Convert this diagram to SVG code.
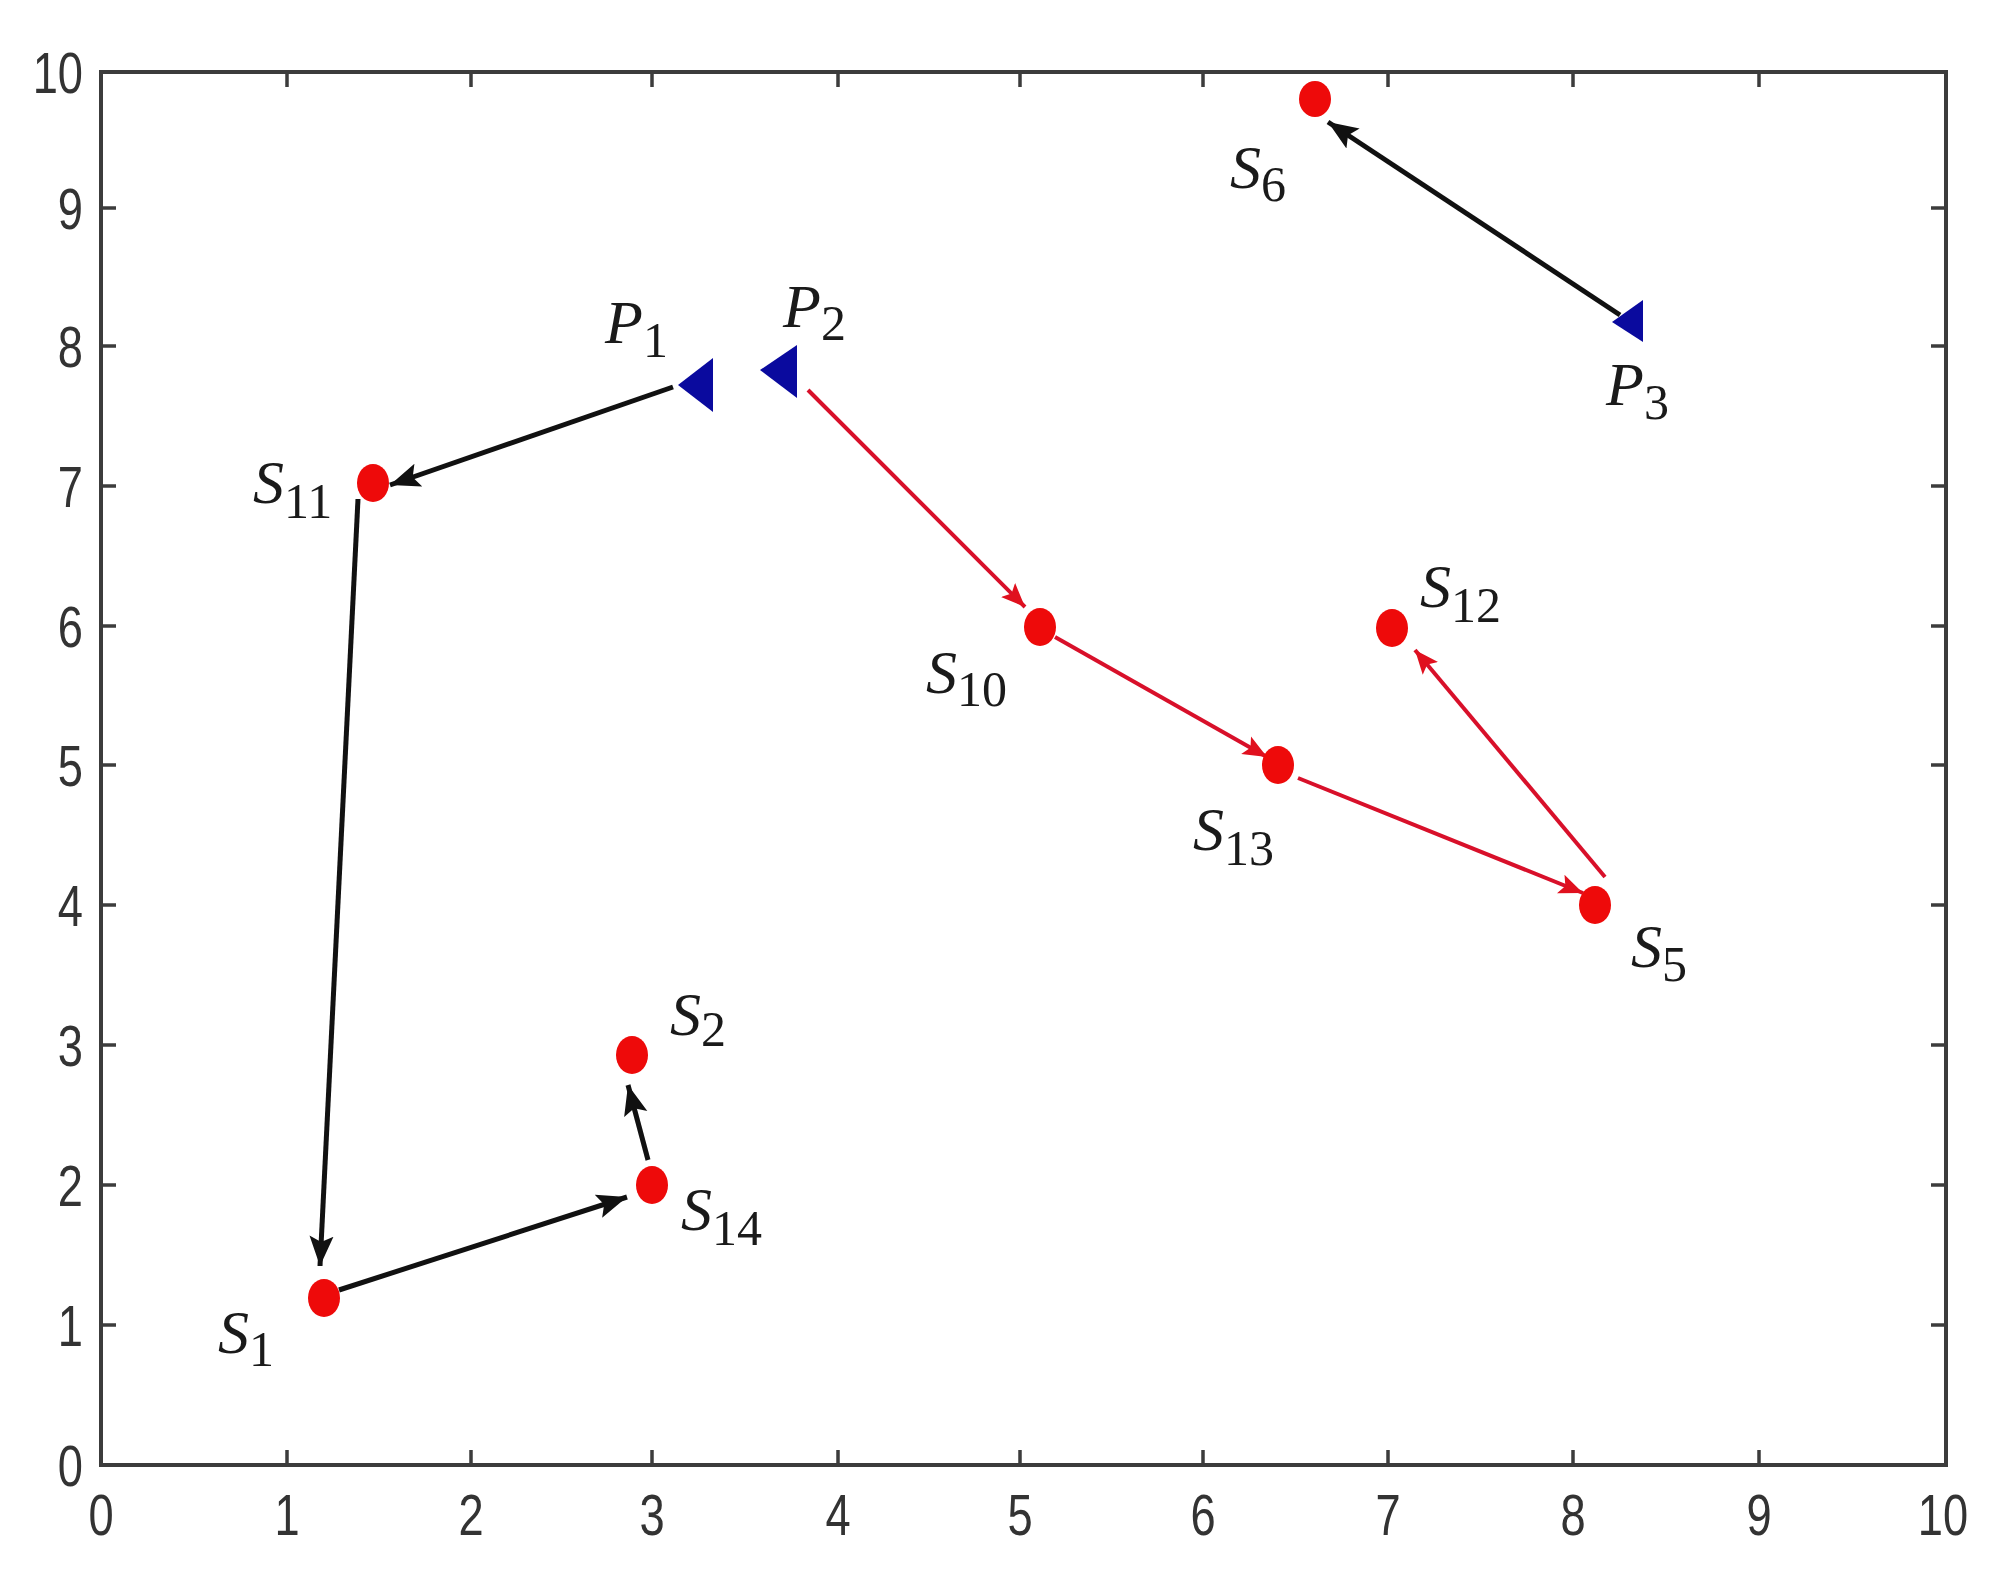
<svg xmlns="http://www.w3.org/2000/svg" width="2006" height="1582" viewBox="0 0 2006 1582">
<style>
.axis{fill:none;stroke:#3c3c3c;stroke-width:4}
.tick{stroke:#3c3c3c;stroke-width:3.5}
.tl{font-family:"Liberation Sans",Arial,sans-serif;font-size:58px;fill:#333}
.tly{text-anchor:end}
.tlx{text-anchor:middle}
.pt{fill:#ee0a0a}
.tri{fill:#0a0a9e}
.lbl{font-family:"Liberation Serif","Times New Roman",serif;font-size:62px;fill:#1a1a1a}
.lbl .v{font-style:italic}
.lbl .s{font-size:50px}
.ab{fill:none;stroke:#111;stroke-width:5}
.ar{fill:none;stroke:#d8102a;stroke-width:4}
</style>
<defs>
<marker id="mb" markerUnits="userSpaceOnUse" markerWidth="32" markerHeight="26" refX="30" refY="13" orient="auto" viewBox="0 0 32 26">
<path d="M0,1 L30,13 L0,25 L6,13 z" fill="#111"/>
</marker>
<marker id="mr" markerUnits="userSpaceOnUse" markerWidth="26" markerHeight="22" refX="24" refY="11" orient="auto" viewBox="0 0 26 22">
<path d="M0,1 L24,11 L0,21 L5,11 z" fill="#e0101e"/>
</marker>
</defs>
<rect width="2006" height="1582" fill="#fff"/>
<g id="axes">
<rect class="axis" x="101" y="72" width="1845" height="1393"/>
<g id="ticks">
<path class="tick" d="M287,1465v-15M471,1465v-15M652,1465v-15M838,1465v-15M1020,1465v-15M1203,1465v-15M1388,1465v-15M1573,1465v-15M1759,1465v-15"/>
<path class="tick" d="M287,72v15M471,72v15M652,72v15M838,72v15M1020,72v15M1203,72v15M1388,72v15M1573,72v15M1759,72v15"/>
<path class="tick" d="M101,208h15M101,346h15M101,486h15M101,626h15M101,765h15M101,905h15M101,1045h15M101,1185h15M101,1325h15"/>
<path class="tick" d="M1946,208h-15M1946,346h-15M1946,486h-15M1946,626h-15M1946,765h-15M1946,905h-15M1946,1045h-15M1946,1185h-15M1946,1325h-15"/>
</g>
<g id="ylabels">
<text class="tl tly" transform="translate(83,93) scale(0.78,1)">10</text>
<text class="tl tly" transform="translate(83,229) scale(0.78,1)">9</text>
<text class="tl tly" transform="translate(83,367) scale(0.78,1)">8</text>
<text class="tl tly" transform="translate(83,507) scale(0.78,1)">7</text>
<text class="tl tly" transform="translate(83,647) scale(0.78,1)">6</text>
<text class="tl tly" transform="translate(83,786) scale(0.78,1)">5</text>
<text class="tl tly" transform="translate(83,926) scale(0.78,1)">4</text>
<text class="tl tly" transform="translate(83,1066) scale(0.78,1)">3</text>
<text class="tl tly" transform="translate(83,1206) scale(0.78,1)">2</text>
<text class="tl tly" transform="translate(83,1346) scale(0.78,1)">1</text>
<text class="tl tly" transform="translate(83,1486) scale(0.78,1)">0</text>
</g>
<g id="xlabels">
<text class="tl tlx" transform="translate(101,1535) scale(0.78,1)">0</text>
<text class="tl tlx" transform="translate(287,1535) scale(0.78,1)">1</text>
<text class="tl tlx" transform="translate(471,1535) scale(0.78,1)">2</text>
<text class="tl tlx" transform="translate(652,1535) scale(0.78,1)">3</text>
<text class="tl tlx" transform="translate(838,1535) scale(0.78,1)">4</text>
<text class="tl tlx" transform="translate(1020,1535) scale(0.78,1)">5</text>
<text class="tl tlx" transform="translate(1203,1535) scale(0.78,1)">6</text>
<text class="tl tlx" transform="translate(1388,1535) scale(0.78,1)">7</text>
<text class="tl tlx" transform="translate(1573,1535) scale(0.78,1)">8</text>
<text class="tl tlx" transform="translate(1759,1535) scale(0.78,1)">9</text>
<text class="tl tlx" transform="translate(1943,1535) scale(0.78,1)">10</text>
</g>
</g>
<g id="connectors">
<path class="ab" d="M673,387 L390,485" marker-end="url(#mb)"/>
<path class="ab" d="M358,499 L320,1266" marker-end="url(#mb)"/>
<path class="ab" d="M339,1290 L627,1197" marker-end="url(#mb)"/>
<path class="ab" d="M648,1160 L628,1085" marker-end="url(#mb)"/>
<path class="ab" d="M1620,315 L1328,122" marker-end="url(#mb)"/>
<path class="ar" d="M808,390 L1025,607" marker-end="url(#mr)"/>
<path class="ar" d="M1055,637 L1267,757" marker-end="url(#mr)"/>
<path class="ar" d="M1298,778 L1583,893" marker-end="url(#mr)"/>
<path class="ar" d="M1605,877 L1415,650" marker-end="url(#mr)"/>
</g>
<g id="P1"><polygon class="tri" points="678,385 713,358 713,412"/><text class="lbl" x="605" y="343"><tspan class="v">P</tspan><tspan class="s" dy="14">1</tspan></text></g>
<g id="P2"><polygon class="tri" points="760,370 797,345 797,398"/><text class="lbl" x="783" y="327"><tspan class="v">P</tspan><tspan class="s" dy="13">2</tspan></text></g>
<g id="P3"><polygon class="tri" points="1612,322 1643,300 1643,342"/><text class="lbl" x="1606" y="405"><tspan class="v">P</tspan><tspan class="s" dy="14">3</tspan></text></g>
<g id="S6"><ellipse class="pt" cx="1315" cy="99" rx="16" ry="18"/><text class="lbl" x="1230" y="188"><tspan class="v">S</tspan><tspan class="s" dy="13">6</tspan></text></g>
<g id="S11"><ellipse class="pt" cx="373" cy="483" rx="16" ry="19"/><text class="lbl" x="253" y="503"><tspan class="v">S</tspan><tspan class="s" dy="15">11</tspan></text></g>
<g id="S10"><ellipse class="pt" cx="1040" cy="627" rx="16" ry="19"/><text class="lbl" x="926" y="693"><tspan class="v">S</tspan><tspan class="s" dy="13">10</tspan></text></g>
<g id="S12"><ellipse class="pt" cx="1392" cy="628" rx="16" ry="19"/><text class="lbl" x="1420" y="607"><tspan class="v">S</tspan><tspan class="s" dy="15">12</tspan></text></g>
<g id="S13"><ellipse class="pt" cx="1278" cy="765" rx="16" ry="19"/><text class="lbl" x="1193" y="850"><tspan class="v">S</tspan><tspan class="s" dy="15">13</tspan></text></g>
<g id="S5"><ellipse class="pt" cx="1595" cy="905" rx="16" ry="19"/><text class="lbl" x="1631" y="967"><tspan class="v">S</tspan><tspan class="s" dy="14">5</tspan></text></g>
<g id="S2"><ellipse class="pt" cx="632" cy="1055" rx="16" ry="19"/><text class="lbl" x="670" y="1035"><tspan class="v">S</tspan><tspan class="s" dy="11">2</tspan></text></g>
<g id="S14"><ellipse class="pt" cx="652" cy="1185" rx="16" ry="19"/><text class="lbl" x="681" y="1230"><tspan class="v">S</tspan><tspan class="s" dy="15">14</tspan></text></g>
<g id="S1"><ellipse class="pt" cx="324" cy="1298" rx="16" ry="19"/><text class="lbl" x="218" y="1353"><tspan class="v">S</tspan><tspan class="s" dy="13">1</tspan></text></g>
</svg>
